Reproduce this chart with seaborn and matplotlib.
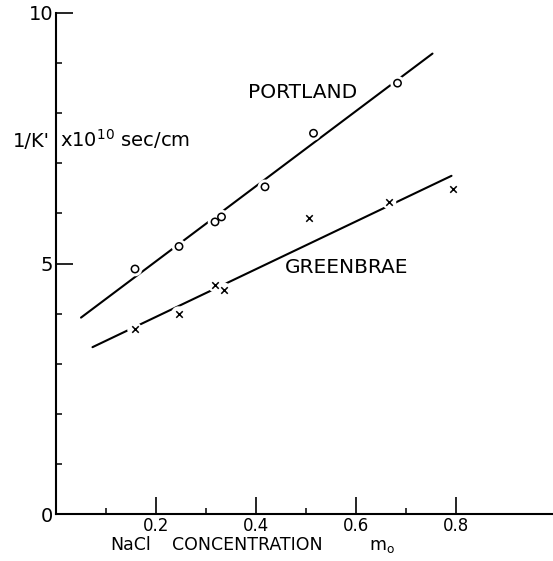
import matplotlib
matplotlib.use("Agg")
import matplotlib.pyplot as plt
import seaborn as sns
import pandas as pd

# Dados
portland_x = [0.158, 0.246, 0.318, 0.331, 0.418, 0.515, 0.683]
portland_y = [4.89, 5.34, 5.83, 5.93, 6.53, 7.60, 8.60]
greenbrae_x = [0.157, 0.245, 0.318, 0.335, 0.505, 0.666, 0.793]
greenbrae_y = [3.69, 4.00, 4.57, 4.48, 5.90, 6.23, 6.48]

# Retas ajustadas (extremos)
portland_fit_x = [0.05, 0.753]
portland_fit_y = [3.92, 9.19]
greenbrae_fit_x = [0.073, 0.791]
greenbrae_fit_y = [3.33, 6.75]

x_ticks = [0.2, 0.4, 0.6, 0.8]
x_tick_labels = ["0.2", "0.4", "0.6", "0.8"]
y_ticks = [0, 5, 10]
y_tick_labels = ["0", "5", "10"]

sns.set_theme(style="ticks")
plt.rcParams["font.family"] = ["DejaVu Sans"]
plt.rcParams["text.color"] = "black"
plt.rcParams["xtick.color"] = "black"
plt.rcParams["ytick.color"] = "black"

fig = plt.figure(figsize=(5.53, 5.61), dpi=100)
ax = fig.add_axes([56 / 553, 47 / 561, 1 - 56 / 553, 501 / 561])

df_p = pd.DataFrame({"x": portland_x, "y": portland_y})
df_g = pd.DataFrame({"x": greenbrae_x, "y": greenbrae_y})

sns.lineplot(x=portland_fit_x, y=portland_fit_y, color="black", lw=1.5, ax=ax, zorder=1)
sns.lineplot(x=greenbrae_fit_x, y=greenbrae_fit_y, color="black", lw=1.5, ax=ax, zorder=1)

# fundo branco para criar o "corte" da reta em volta dos pontos
sns.scatterplot(data=df_p, x="x", y="y", marker="o", s=110, color="white",
                edgecolor="none", ax=ax, zorder=2)
sns.scatterplot(data=df_g, x="x", y="y", marker="o", s=110, color="white",
                edgecolor="none", ax=ax, zorder=2)

sns.scatterplot(data=df_p, x="x", y="y", marker="o", s=28, facecolor="none",
                edgecolor="black", linewidth=1.1, ax=ax, zorder=3)
sns.scatterplot(data=df_g, x="x", y="y", marker="x", s=22, color="black",
                linewidth=1.1, ax=ax, zorder=3)

ax.text(0.384, 8.42, "PORTLAND", fontsize=14.5, va="center", ha="left")
ax.text(0.458, 4.93, "GREENBRAE", fontsize=14.5, va="center", ha="left")
ax.text(0.008, 7.33, r"x10$^{10}$ sec/cm", fontsize=14, va="baseline", ha="left")
ax.text(-0.012, 7.33, "1/K'", fontsize=14, va="baseline", ha="right")

# rótulo do eixo x em partes, espaçadas como no original
ax.text(0.108, -0.72, "NaCl", fontsize=12.5, va="baseline", ha="left", clip_on=False)
ax.text(0.382, -0.72, "CONCENTRATION", fontsize=12.5, va="baseline", ha="center",
        clip_on=False)
ax.text(0.626, -0.72, r"m$_\mathrm{o}$", fontsize=12.5, va="baseline",
        ha="left", clip_on=False)

ax.set_xlim(0, 0.994)
ax.set_ylim(0, 10)
ax.set_xticks(x_ticks)
ax.set_xticklabels(x_tick_labels, fontsize=12)
ax.set_xticks([0.1, 0.3, 0.5, 0.7], minor=True)
ax.set_yticks(y_ticks)
ax.set_yticklabels(y_tick_labels, fontsize=14)
ax.set_yticks([1, 2, 3, 4, 6, 7, 8, 9], minor=True)
ax.tick_params(axis="both", which="major", direction="in", length=12, width=1.2, pad=2)
ax.tick_params(axis="both", which="minor", direction="in", length=4, width=1.1)

ax.set_xlabel("")
ax.set_ylabel("")
sns.despine(ax=ax)
for s in ["left", "bottom"]:
    ax.spines[s].set_linewidth(1.5)
    ax.spines[s].set_color("black")

fig.savefig("out.png", dpi=100)
